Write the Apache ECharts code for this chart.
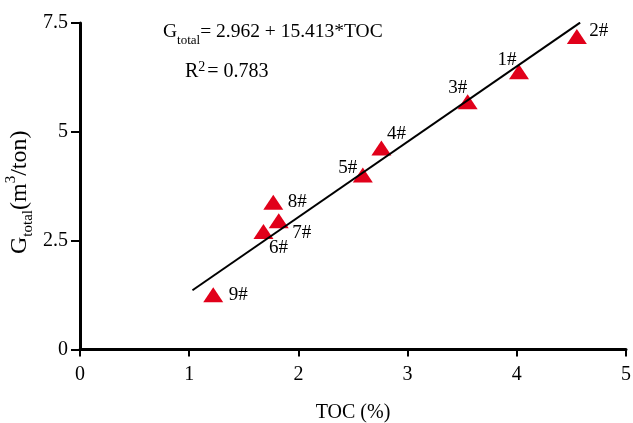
<!DOCTYPE html>
<html>
<head>
<meta charset="utf-8">
<script src="https://cdn.jsdelivr.net/npm/echarts@6/dist/echarts.min.js"></script>
<style>
  html, body { margin: 0; padding: 0; background: #ffffff; }
  #chart { width: 633px; height: 423px; }
</style>
</head>
<body>
<div id="chart"></div>
<script>
// Sample wells: TOC (%) and total gas content G_total (m3/ton)
const wellNames = ['1#', '2#', '3#', '4#', '5#', '6#', '7#', '8#', '9#'];
const tocValues = [4.02, 4.55, 3.55, 2.76, 2.59, 1.68, 1.82, 1.77, 1.22];
const gasValues = [6.38, 7.19, 5.69, 4.63, 4.01, 2.71, 2.96, 3.38, 1.26];

// Regression line endpoints (TOC, G_total)
const fitLineX = [1.03, 4.58];
const fitLineY = [1.36, 7.51];

// Axis ticks
const xTicks = [0, 1, 2, 3, 4, 5];
const yTicks = [0, 2.5, 5, 7.5];

// Label placement around each triangle (pixel offsets from the marker centre)
const labelOffsets = {
  '1#': [-12, -12], '2#': [22, -5], '3#': [-10, -14],
  '4#': [15, -14], '5#': [-15, -7], '6#': [15, 16],
  '7#': [23, 12], '8#': [24, 0], '9#': [25, 0]
};

const FONT = '"Liberation Serif", "Times New Roman", serif';
const INK = '#000';

const points = wellNames.map((name, i) => ({
  name: name,
  value: [tocValues[i], gasValues[i]],
  label: { offset: labelOffsets[name] }
}));

const chart = echarts.init(document.getElementById('chart'), null, { renderer: 'canvas' });

chart.setOption({
  backgroundColor: '#ffffff',
  animation: false,
  grid: { left: 80, right: 7, top: 23, bottom: 73.5, containLabel: false, outerBoundsMode: 'none' },
  xAxis: {
    type: 'value',
    min: xTicks[0],
    max: xTicks[xTicks.length - 1],
    interval: 1,
    name: 'TOC (%)',
    nameLocation: 'middle',
    nameGap: 53,
    nameMoveOverlap: false,
    nameTextStyle: { fontFamily: FONT, fontSize: 20, color: INK },
    axisLine: { show: true, lineStyle: { color: '#000', width: 3 } },
    axisTick: { show: true, inside: false, length: 7, lineStyle: { color: '#000', width: 2 } },
    axisLabel: {
      fontFamily: FONT, fontSize: 20, color: INK, margin: 15,
      formatter: v => xTicks.includes(v) ? String(v) : ''
    },
    splitLine: { show: false }
  },
  yAxis: {
    type: 'value',
    min: yTicks[0],
    max: yTicks[yTicks.length - 1],
    interval: 2.5,
    name: '{m|G}{s|total}{m|(m}{p|3}{m|/ton)}',
    nameLocation: 'middle',
    nameGap: 44,
    nameMoveOverlap: false,
    nameTextStyle: {
      fontFamily: FONT, fontSize: 24, color: INK,
      padding: [0, 12, 0, 0],
      rich: {
        m: { fontFamily: FONT, fontSize: 24, lineHeight: 32, color: INK },
        s: { fontFamily: FONT, fontSize: 15, lineHeight: 12, verticalAlign: 'bottom', color: INK },
        p: { fontFamily: FONT, fontSize: 15, lineHeight: 20, verticalAlign: 'top', color: INK }
      }
    },
    axisLine: { show: true, lineStyle: { color: '#000', width: 3 } },
    axisTick: { show: true, inside: false, length: 9, lineStyle: { color: '#000', width: 2 } },
    axisLabel: {
      fontFamily: FONT, fontSize: 20, color: INK, margin: 12,
      formatter: v => yTicks.includes(v) ? String(v) : ''
    },
    splitLine: { show: false }
  },
  graphic: [
    {
      type: 'text',
      left: 163,
      top: 22,
      style: {
        text: '{m|G}{s|total}{m|= 2.962 + 15.413*TOC}',
        fill: INK,
        rich: {
          m: { fontFamily: FONT, fontSize: 19.5, lineHeight: 30, fill: INK },
          s: { fontFamily: FONT, fontSize: 13, lineHeight: 12, verticalAlign: 'bottom', fill: INK }
        }
      }
    },
    {
      type: 'text',
      left: 185,
      top: 60,
      style: {
        text: '{m|R}{p|2}{m|= 0.783}',
        fill: INK,
        rich: {
          m: { fontFamily: FONT, fontSize: 20, lineHeight: 24, fill: INK },
          p: { fontFamily: FONT, fontSize: 14, lineHeight: 16, verticalAlign: 'top', padding: [0, 2, 0, 0], fill: INK }
        }
      }
    }
  ],
  series: [
    {
      type: 'line',
      data: fitLineX.map((x, i) => [x, fitLineY[i]]),
      symbol: 'none',
      lineStyle: { color: '#000', width: 2 },
      z: 3
    },
    {
      type: 'scatter',
      data: points,
      symbol: 'triangle',
      symbolSize: [20, 15],
      itemStyle: { color: '#e1001a', opacity: 1 },
      label: {
        show: true,
        position: 'inside',
        formatter: p => p.name,
        fontFamily: FONT,
        fontSize: 19,
        color: INK
      },
      z: 2
    }
  ]
});
</script>
</body>
</html>
